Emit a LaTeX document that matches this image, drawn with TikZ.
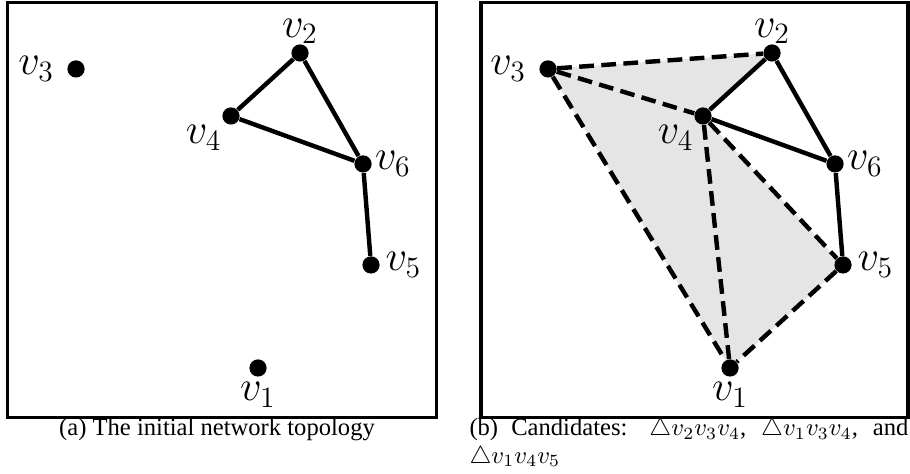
\documentclass[tikz,border=0pt]{standalone}
\usepackage[no-math]{fontspec}
\setmainfont{Liberation Serif}
\usepackage{amsmath, amssymb}
\usetikzlibrary{backgrounds}

\tikzset{
    vtx/.style={circle, fill=black, inner sep=0pt, minimum size=7pt},
    vlab/.style={font=\LARGE, inner sep=1pt},
    link/.style={line width=1.8pt},
    cand/.style={line width=1.8pt, dash pattern=on 6pt off 3pt},
    frame/.style={line width=1.3pt},
    capt/.style={font=\fontsize{10}{11}\selectfont, inner sep=0pt}
}

\begin{document}
\begin{tikzpicture}
    \useasboundingbox (0,0) rectangle (13,6.771);
    % left panel: the initial topology
    \draw[frame] (0.11,0.81) rectangle (6.24,6.73);
    \node[vtx, label={[vlab, label distance=1pt]below:$v_1$}] (a1) at (3.686,1.514) {};
    \node[vtx, label={[vlab, label distance=-1pt]above:$v_2$}] (a2) at (4.286,6.014) {};
    \node[vtx, label={[vlab, label distance=4pt]left:$v_3$}] (a3) at (1.086,5.786) {};
    \node[vtx, label={[vlab, label distance=0pt]below left:$v_4$}] (a4) at (3.300,5.114) {};
    \node[vtx, label={[vlab, label distance=1pt]right:$v_5$}] (a5) at (5.300,2.986) {};
    \node[vtx, label={[vlab, label distance=0pt]right:$v_6$}] (a6) at (5.186,4.429) {};
    \draw[link] (a2) -- (a4) -- (a6) -- (a2);
    \draw[link] (a6) -- (a5);
    \node[capt, anchor=base] (capa) at (3.10,0.543) {(a) The initial network topology};
    % right panel: the candidate triangles
    \draw[frame] (6.87,0.81) rectangle (12.97,6.73);
    \node[vtx, label={[vlab, label distance=1pt]below:$v_1$}] (b1) at (10.429,1.514) {};
    \node[vtx, label={[vlab, label distance=-1pt]above:$v_2$}] (b2) at (11.029,6.014) {};
    \node[vtx, label={[vlab, label distance=4pt]left:$v_3$}] (b3) at (7.829,5.786) {};
    \node[vtx, label={[vlab, label distance=0pt]below left:$v_4$}] (b4) at (10.043,5.114) {};
    \node[vtx, label={[vlab, label distance=1pt]right:$v_5$}] (b5) at (12.043,2.986) {};
    \node[vtx, label={[vlab, label distance=0pt]right:$v_6$}] (b6) at (11.929,4.429) {};
    \begin{scope}[on background layer]
        \fill[black!10] (b3.center) -- (b2.center) -- (b4.center) -- (b5.center) -- (b1.center) -- cycle;
    \end{scope}
    \draw[link] (b2) -- (b4) -- (b6) -- (b2);
    \draw[link] (b6) -- (b5);
    \draw[cand] (b3) -- (b2);
    \draw[cand] (b3) -- (b4);
    \draw[cand] (b3) -- (b1);
    \draw[cand] (b4) -- (b1);
    \draw[cand] (b4) -- (b5);
    \draw[cand] (b5) -- (b1);
    \node[capt, anchor=base west, text width=6.27cm, align=justify] (capb) at (6.70,0.543)
        {(b) Candidates: $\triangle v_2v_3v_4$, $\triangle v_1v_3v_4$, and $\triangle v_1v_4v_5$};
\end{tikzpicture}
\end{document}
